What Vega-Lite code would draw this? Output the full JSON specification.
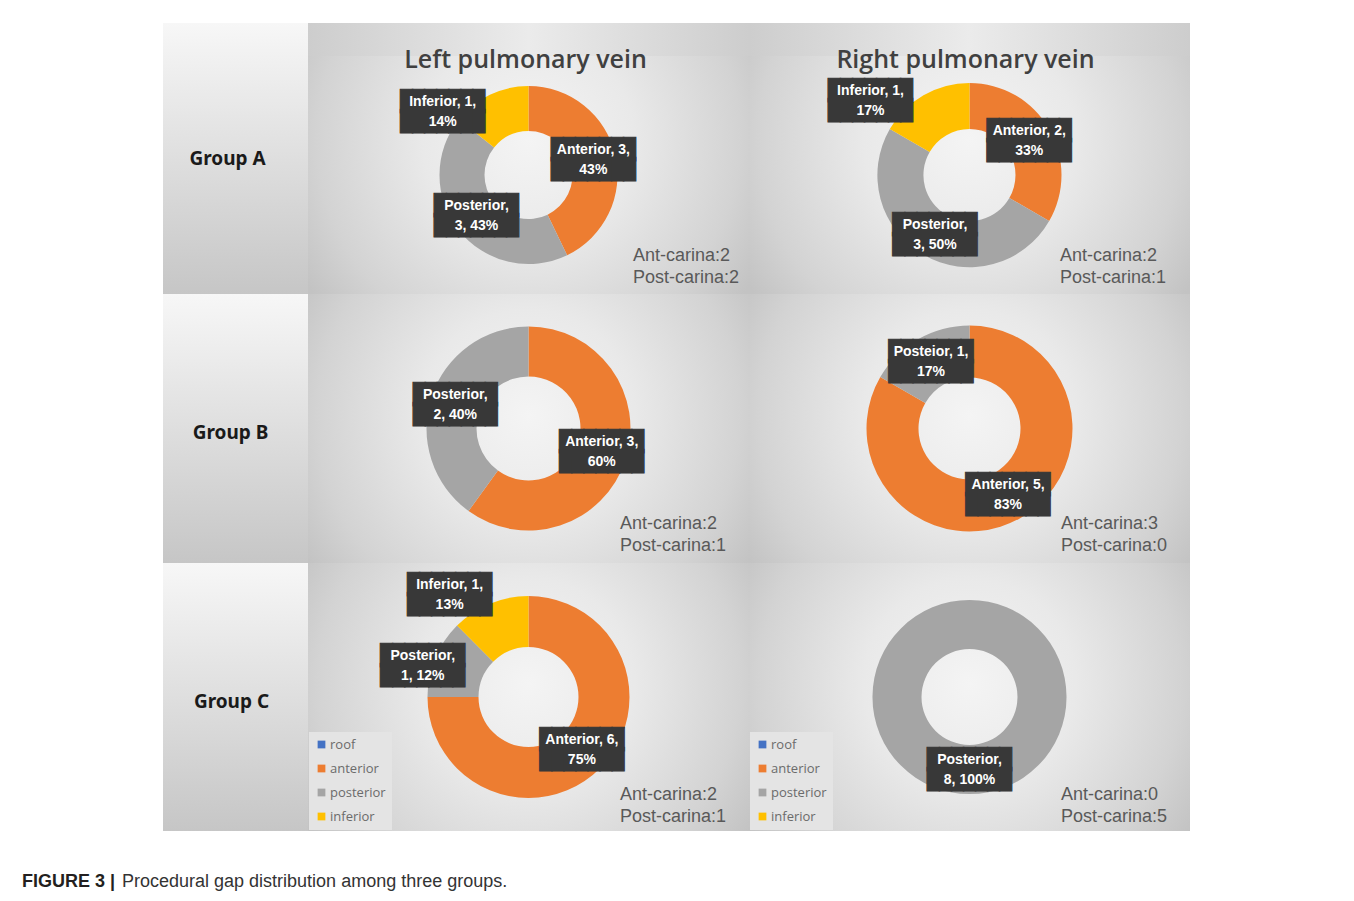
{
"$schema":"https://vega.github.io/schema/vega-lite/v6.json",
"padding":{"left":22,"top":23,"right":10,"bottom":5},
"background":"white",
"config":{"view":{"stroke":null},"concat":{"spacing":0}},
"datasets":{
"slices":[
{"group":"A","vein":"Left","region":"anterior","ord":1,"count":3,"label":["Anterior, 3,","43%"]},
{"group":"A","vein":"Left","region":"posterior","ord":2,"count":3,"label":["Posterior,","3, 43%"]},
{"group":"A","vein":"Left","region":"inferior","ord":3,"count":1,"label":["Inferior, 1,","14%"]},
{"group":"A","vein":"Right","region":"anterior","ord":1,"count":2,"label":["Anterior, 2,","33%"]},
{"group":"A","vein":"Right","region":"posterior","ord":2,"count":3,"label":["Posterior,","3, 50%"]},
{"group":"A","vein":"Right","region":"inferior","ord":3,"count":1,"label":["Inferior, 1,","17%"]},
{"group":"B","vein":"Left","region":"anterior","ord":1,"count":3,"label":["Anterior, 3,","60%"]},
{"group":"B","vein":"Left","region":"posterior","ord":2,"count":2,"label":["Posterior,","2, 40%"]},
{"group":"B","vein":"Right","region":"anterior","ord":1,"count":5,"label":["Anterior, 5,","83%"]},
{"group":"B","vein":"Right","region":"posterior","ord":2,"count":1,"label":["Posteior, 1,","17%"]},
{"group":"C","vein":"Left","region":"anterior","ord":1,"count":6,"label":["Anterior, 6,","75%"]},
{"group":"C","vein":"Left","region":"posterior","ord":2,"count":1,"label":["Posterior,","1, 12%"]},
{"group":"C","vein":"Left","region":"inferior","ord":3,"count":1,"label":["Inferior, 1,","13%"]},
{"group":"C","vein":"Right","region":"posterior","ord":2,"count":8,"label":["Posterior,","8, 100%"]}
],
"panels":[
{"group":"A","vein":"Left","title":"Left pulmonary vein","notes":["Ant-carina:2","Post-carina:2"]},
{"group":"A","vein":"Right","title":"Right pulmonary vein","notes":["Ant-carina:2","Post-carina:1"]},
{"group":"B","vein":"Left","title":"","notes":["Ant-carina:2","Post-carina:1"]},
{"group":"B","vein":"Right","title":"","notes":["Ant-carina:3","Post-carina:0"]},
{"group":"C","vein":"Left","title":"","notes":["Ant-carina:2","Post-carina:1"]},
{"group":"C","vein":"Right","title":"","notes":["Ant-carina:0","Post-carina:5"]}
],
"groups":[{"group":"A","name":"Group A"},{"group":"B","name":"Group B"},{"group":"C","name":"Group C"}]
},
"spacing":41,"bounds":"full",
"resolve":{"scale":{"theta":"independent","color":"independent"},"legend":{"color":"independent"}},
"vconcat":[
{"spacing":0,"bounds":"full",
"resolve":{"scale":{"theta":"independent","color":"independent"},"legend":{"color":"independent"}},
"vconcat":[
{"spacing":0,"bounds":"full",
"resolve":{"scale":{"theta":"independent","color":"independent"},"legend":{"color":"independent"}},
"hconcat":[
{"width":141,"height":271,"view":{"fill":"white"},"data":{"values":[]},"mark":"point","encoding":{}},
{"width":145,"height":271,"view":{"fill":{"gradient":"linear","x1":0,"y1":0,"x2":0,"y2":1,"stops":[{"offset":0,"color":"#f7f7f7"},{"offset":1,"color":"#c6c6c6"}]}},
"data":{"name":"groups"},"transform":[{"filter":"datum.group=='A'"}],
"mark":{"type":"text","font":"Noto Sans","fontWeight":"bold","fontSize":19,"color":"#1a1a1a","dx":-8,"dy":0},
"encoding":{"text":{"field":"name"}}},
{"spacing":0,"bounds":"flush",
"resolve":{"scale":{"theta":"independent","color":"independent"},"legend":{"color":"independent"}},
"vconcat":[
{"width":441,"height":33,"view":{"fill":{"gradient":"linear","x1":0,"y1":0,"x2":1,"y2":0,"stops":[{"offset":0,"color":"#cdcdcd"},{"offset":0.5,"color":"#ebebeb"},{"offset":1,"color":"#cdcdcd"}]}},
"data":{"values":[]},"mark":"point","encoding":{}},
{"width":441,"height":238,
"view":{"fill":{"gradient":"radial","x1":0.5,"y1":0.42,"r1":0,"x2":0.5,"y2":0.42,"r2":0.6,"stops":[{"offset":0,"color":"#f4f4f4"},{"offset":0.4,"color":"#e9e9e9"},{"offset":0.8,"color":"#d3d3d3"},{"offset":1,"color":"#c3c3c3"}]}},
"data":{"name":"slices"},
"transform":[{"filter":"datum.group=='A' && datum.vein=='Left'"}],
"layer":[
{"mark":{"type":"arc","innerRadius":44,"outerRadius":89},
"encoding":{"theta":{"field":"count","type":"quantitative","stack":true},"order":{"field":"ord","type":"quantitative"},
"color":{"field":"region","type":"nominal","scale":{"domain":["roof","anterior","posterior","inferior"],"range":["#4472C4","#ED7D31","#A5A5A5","#FFC000"]},"legend":null}}},
{"mark":{"type":"text","radius":66.5,"dy":-10,"font":"DejaVu Sans Mono","fontSize":20,"lineHeight":20,"color":"#383838","stroke":"#383838","strokeWidth":1.2,"align":"center","baseline":"middle"},
"encoding":{"theta":{"field":"count","type":"quantitative","stack":true},"order":{"field":"ord","type":"quantitative"},"text":{"value":["███████","███████"]},
"opacity":{"condition":{"test":"datum.region=='inferior'","value":0},"value":1}}},
{"mark":{"type":"text","radius":66.5,"dy":-10,"font":"Liberation Sans","fontWeight":"bold","fontSize":14,"lineHeight":20,"color":"#ffffff","align":"center","baseline":"middle"},
"encoding":{"theta":{"field":"count","type":"quantitative","stack":true},"order":{"field":"ord","type":"quantitative"},"text":{"field":"label"},
"opacity":{"condition":{"test":"datum.region=='inferior'","value":0},"value":1}}},
{"mark":{"type":"text","radius":66.5,"dx":-57,"dy":-13,"font":"DejaVu Sans Mono","fontSize":20,"lineHeight":20,"color":"#383838","stroke":"#383838","strokeWidth":1.2,"align":"center","baseline":"middle"},
"encoding":{"theta":{"field":"count","type":"quantitative","stack":true},"order":{"field":"ord","type":"quantitative"},"text":{"value":["███████","███████"]},
"opacity":{"condition":{"test":"datum.region=='inferior'","value":1},"value":0}}},
{"mark":{"type":"text","radius":66.5,"dx":-57,"dy":-13,"font":"Liberation Sans","fontWeight":"bold","fontSize":14,"lineHeight":20,"color":"#ffffff","align":"center","baseline":"middle"},
"encoding":{"theta":{"field":"count","type":"quantitative","stack":true},"order":{"field":"ord","type":"quantitative"},"text":{"field":"label"},
"opacity":{"condition":{"test":"datum.region=='inferior'","value":1},"value":0}}},
{"data":{"name":"panels"},"transform":[{"filter":"datum.group=='A' && datum.vein=='Left'"}],
"mark":{"type":"text","font":"Open Sans","fontWeight":600,"fontSize":25,"color":"#404040","align":"center","baseline":"middle","dx":-3,"dy":-115},
"encoding":{"text":{"field":"title"}}},
{"data":{"name":"panels"},"transform":[{"filter":"datum.group=='A' && datum.vein=='Left'"}],
"mark":{"type":"text","font":"Liberation Sans","fontSize":18,"lineHeight":22,"color":"#595959","align":"left","baseline":"middle","dx":104.5,"dy":81},
"encoding":{"text":{"field":"notes"}}}
]}
]},
{"spacing":0,"bounds":"flush",
"resolve":{"scale":{"theta":"independent","color":"independent"},"legend":{"color":"independent"}},
"vconcat":[
{"width":441,"height":33,"view":{"fill":{"gradient":"linear","x1":0,"y1":0,"x2":1,"y2":0,"stops":[{"offset":0,"color":"#cdcdcd"},{"offset":0.5,"color":"#ebebeb"},{"offset":1,"color":"#cdcdcd"}]}},
"data":{"values":[]},"mark":"point","encoding":{}},
{"width":441,"height":238,
"view":{"fill":{"gradient":"radial","x1":0.5,"y1":0.42,"r1":0,"x2":0.5,"y2":0.42,"r2":0.6,"stops":[{"offset":0,"color":"#f4f4f4"},{"offset":0.4,"color":"#e9e9e9"},{"offset":0.8,"color":"#d3d3d3"},{"offset":1,"color":"#c3c3c3"}]}},
"data":{"name":"slices"},
"transform":[{"filter":"datum.group=='A' && datum.vein=='Right'"}],
"layer":[
{"mark":{"type":"arc","innerRadius":46,"outerRadius":92},
"encoding":{"theta":{"field":"count","type":"quantitative","stack":true},"order":{"field":"ord","type":"quantitative"},
"color":{"field":"region","type":"nominal","scale":{"domain":["roof","anterior","posterior","inferior"],"range":["#4472C4","#ED7D31","#A5A5A5","#FFC000"]},"legend":null}}},
{"mark":{"type":"text","radius":69,"dy":-10,"font":"DejaVu Sans Mono","fontSize":20,"lineHeight":20,"color":"#383838","stroke":"#383838","strokeWidth":1.2,"align":"center","baseline":"middle"},
"encoding":{"theta":{"field":"count","type":"quantitative","stack":true},"order":{"field":"ord","type":"quantitative"},"text":{"value":["███████","███████"]},
"opacity":{"condition":{"test":"datum.region=='inferior'","value":0},"value":1}}},
{"mark":{"type":"text","radius":69,"dy":-10,"font":"Liberation Sans","fontWeight":"bold","fontSize":14,"lineHeight":20,"color":"#ffffff","align":"center","baseline":"middle"},
"encoding":{"theta":{"field":"count","type":"quantitative","stack":true},"order":{"field":"ord","type":"quantitative"},"text":{"field":"label"},
"opacity":{"condition":{"test":"datum.region=='inferior'","value":0},"value":1}}},
{"mark":{"type":"text","radius":69,"dx":-64.5,"dy":-24,"font":"DejaVu Sans Mono","fontSize":20,"lineHeight":20,"color":"#383838","stroke":"#383838","strokeWidth":1.2,"align":"center","baseline":"middle"},
"encoding":{"theta":{"field":"count","type":"quantitative","stack":true},"order":{"field":"ord","type":"quantitative"},"text":{"value":["███████","███████"]},
"opacity":{"condition":{"test":"datum.region=='inferior'","value":1},"value":0}}},
{"mark":{"type":"text","radius":69,"dx":-64.5,"dy":-24,"font":"Liberation Sans","fontWeight":"bold","fontSize":14,"lineHeight":20,"color":"#ffffff","align":"center","baseline":"middle"},
"encoding":{"theta":{"field":"count","type":"quantitative","stack":true},"order":{"field":"ord","type":"quantitative"},"text":{"field":"label"},
"opacity":{"condition":{"test":"datum.region=='inferior'","value":1},"value":0}}},
{"data":{"name":"panels"},"transform":[{"filter":"datum.group=='A' && datum.vein=='Right'"}],
"mark":{"type":"text","font":"Open Sans","fontWeight":600,"fontSize":25,"color":"#404040","align":"center","baseline":"middle","dx":-4,"dy":-115},
"encoding":{"text":{"field":"title"}}},
{"data":{"name":"panels"},"transform":[{"filter":"datum.group=='A' && datum.vein=='Right'"}],
"mark":{"type":"text","font":"Liberation Sans","fontSize":18,"lineHeight":22,"color":"#595959","align":"left","baseline":"middle","dx":90.5,"dy":81},
"encoding":{"text":{"field":"notes"}}}
]}
]}
]},
{"spacing":0,"bounds":"full",
"resolve":{"scale":{"theta":"independent","color":"independent"},"legend":{"color":"independent"}},
"hconcat":[
{"width":141,"height":269,"view":{"fill":"white"},"data":{"values":[]},"mark":"point","encoding":{}},
{"width":145,"height":269,"view":{"fill":{"gradient":"linear","x1":0,"y1":0,"x2":0,"y2":1,"stops":[{"offset":0,"color":"#f7f7f7"},{"offset":1,"color":"#c6c6c6"}]}},
"data":{"name":"groups"},"transform":[{"filter":"datum.group=='B'"}],
"mark":{"type":"text","font":"Noto Sans","fontWeight":"bold","fontSize":19,"color":"#1a1a1a","dx":-5,"dy":4},
"encoding":{"text":{"field":"name"}}},
{"width":441,"height":269,
"view":{"fill":{"gradient":"radial","x1":0.5,"y1":0.47,"r1":0,"x2":0.5,"y2":0.47,"r2":0.6,"stops":[{"offset":0,"color":"#f4f4f4"},{"offset":0.4,"color":"#e9e9e9"},{"offset":0.8,"color":"#d3d3d3"},{"offset":1,"color":"#c3c3c3"}]}},
"data":{"name":"slices"},
"transform":[{"filter":"datum.group=='B' && datum.vein=='Left'"}],
"layer":[
{"mark":{"type":"arc","innerRadius":52,"outerRadius":102},
"encoding":{"theta":{"field":"count","type":"quantitative","stack":true},"order":{"field":"ord","type":"quantitative"},
"color":{"field":"region","type":"nominal","scale":{"domain":["roof","anterior","posterior","inferior"],"range":["#4472C4","#ED7D31","#A5A5A5","#FFC000"]},"legend":null}}},
{"mark":{"type":"text","radius":77,"dy":-10,"font":"DejaVu Sans Mono","fontSize":20,"lineHeight":20,"color":"#383838","stroke":"#383838","strokeWidth":1.2,"align":"center","baseline":"middle"},
"encoding":{"theta":{"field":"count","type":"quantitative","stack":true},"order":{"field":"ord","type":"quantitative"},"text":{"value":["███████","███████"]}}},
{"mark":{"type":"text","radius":77,"dy":-10,"font":"Liberation Sans","fontWeight":"bold","fontSize":14,"lineHeight":20,"color":"#ffffff","align":"center","baseline":"middle"},
"encoding":{"theta":{"field":"count","type":"quantitative","stack":true},"order":{"field":"ord","type":"quantitative"},"text":{"field":"label"}}},
{"data":{"name":"panels"},"transform":[{"filter":"datum.group=='B' && datum.vein=='Left'"}],
"mark":{"type":"text","font":"Liberation Sans","fontSize":18,"lineHeight":22,"color":"#595959","align":"left","baseline":"middle","dx":91.5,"dy":95.5},
"encoding":{"text":{"field":"notes"}}}
]},
{"width":441,"height":269,
"view":{"fill":{"gradient":"radial","x1":0.5,"y1":0.47,"r1":0,"x2":0.5,"y2":0.47,"r2":0.6,"stops":[{"offset":0,"color":"#f4f4f4"},{"offset":0.4,"color":"#e9e9e9"},{"offset":0.8,"color":"#d3d3d3"},{"offset":1,"color":"#c3c3c3"}]}},
"data":{"name":"slices"},
"transform":[{"filter":"datum.group=='B' && datum.vein=='Right'"}],
"layer":[
{"mark":{"type":"arc","innerRadius":51,"outerRadius":103},
"encoding":{"theta":{"field":"count","type":"quantitative","stack":true},"order":{"field":"ord","type":"quantitative"},
"color":{"field":"region","type":"nominal","scale":{"domain":["roof","anterior","posterior","inferior"],"range":["#4472C4","#ED7D31","#A5A5A5","#FFC000"]},"legend":null}}},
{"mark":{"type":"text","radius":77,"dy":-10,"font":"DejaVu Sans Mono","fontSize":20,"lineHeight":20,"color":"#383838","stroke":"#383838","strokeWidth":1.2,"align":"center","baseline":"middle"},
"encoding":{"theta":{"field":"count","type":"quantitative","stack":true},"order":{"field":"ord","type":"quantitative"},"text":{"value":["███████","███████"]}}},
{"mark":{"type":"text","radius":77,"dy":-10,"font":"Liberation Sans","fontWeight":"bold","fontSize":14,"lineHeight":20,"color":"#ffffff","align":"center","baseline":"middle"},
"encoding":{"theta":{"field":"count","type":"quantitative","stack":true},"order":{"field":"ord","type":"quantitative"},"text":{"field":"label"}}},
{"data":{"name":"panels"},"transform":[{"filter":"datum.group=='B' && datum.vein=='Right'"}],
"mark":{"type":"text","font":"Liberation Sans","fontSize":18,"lineHeight":22,"color":"#595959","align":"left","baseline":"middle","dx":91.5,"dy":95.5},
"encoding":{"text":{"field":"notes"}}}
]}
]},
{"spacing":0,"bounds":"full",
"resolve":{"scale":{"theta":"independent","color":"independent"},"legend":{"color":"independent"}},
"hconcat":[
{"width":141,"height":268,"view":{"fill":"white"},"data":{"values":[]},"mark":"point","encoding":{}},
{"width":145,"height":268,"view":{"fill":{"gradient":"linear","x1":0,"y1":0,"x2":0,"y2":1,"stops":[{"offset":0,"color":"#f7f7f7"},{"offset":1,"color":"#c6c6c6"}]}},
"data":{"name":"groups"},"transform":[{"filter":"datum.group=='C'"}],
"mark":{"type":"text","font":"Noto Sans","fontWeight":"bold","fontSize":19,"color":"#1a1a1a","dx":-4,"dy":5},
"encoding":{"text":{"field":"name"}}},
{"width":441,"height":268,
"view":{"fill":{"gradient":"radial","x1":0.5,"y1":0.47,"r1":0,"x2":0.5,"y2":0.47,"r2":0.6,"stops":[{"offset":0,"color":"#f4f4f4"},{"offset":0.4,"color":"#e9e9e9"},{"offset":0.8,"color":"#d3d3d3"},{"offset":1,"color":"#c3c3c3"}]}},
"data":{"name":"slices"},
"transform":[{"filter":"datum.group=='C' && datum.vein=='Left'"}],
"layer":[
{"mark":{"type":"arc","innerRadius":50,"outerRadius":101},
"encoding":{"theta":{"field":"count","type":"quantitative","stack":true},"order":{"field":"ord","type":"quantitative"},
"color":{"field":"region","type":"nominal","scale":{"domain":["roof","anterior","posterior","inferior"],"range":["#4472C4","#ED7D31","#A5A5A5","#FFC000"]},
"legend":{"orient":"bottom-left","offset":1,"title":null,"padding":6,"rowPadding":10,"fillColor":"#e4e4e4","symbolType":"square","symbolSize":60,"symbolStrokeWidth":0,"labelFont":"Open Sans","labelFontSize":13,"labelColor":"#6b6b6b","labelOffset":2}}}},
{"mark":{"type":"text","radius":75.5,"dy":-10,"font":"DejaVu Sans Mono","fontSize":20,"lineHeight":20,"color":"#383838","stroke":"#383838","strokeWidth":1.2,"align":"center","baseline":"middle"},
"encoding":{"theta":{"field":"count","type":"quantitative","stack":true},"order":{"field":"ord","type":"quantitative"},"text":{"value":["███████","███████"]},
"opacity":{"condition":{"test":"datum.region=='inferior' || datum.region=='posterior'","value":0},"value":1}}},
{"mark":{"type":"text","radius":75.5,"dy":-10,"font":"Liberation Sans","fontWeight":"bold","fontSize":14,"lineHeight":20,"color":"#ffffff","align":"center","baseline":"middle"},
"encoding":{"theta":{"field":"count","type":"quantitative","stack":true},"order":{"field":"ord","type":"quantitative"},"text":{"field":"label"},
"opacity":{"condition":{"test":"datum.region=='inferior' || datum.region=='posterior'","value":0},"value":1}}},
{"mark":{"type":"text","radius":75.5,"dx":-36,"dy":-12,"font":"DejaVu Sans Mono","fontSize":20,"lineHeight":20,"color":"#383838","stroke":"#383838","strokeWidth":1.2,"align":"center","baseline":"middle"},
"encoding":{"theta":{"field":"count","type":"quantitative","stack":true},"order":{"field":"ord","type":"quantitative"},"text":{"value":["███████","███████"]},
"opacity":{"condition":{"test":"datum.region=='posterior'","value":1},"value":0}}},
{"mark":{"type":"text","radius":75.5,"dx":-36,"dy":-12,"font":"Liberation Sans","fontWeight":"bold","fontSize":14,"lineHeight":20,"color":"#ffffff","align":"center","baseline":"middle"},
"encoding":{"theta":{"field":"count","type":"quantitative","stack":true},"order":{"field":"ord","type":"quantitative"},"text":{"field":"label"},
"opacity":{"condition":{"test":"datum.region=='posterior'","value":1},"value":0}}},
{"mark":{"type":"text","radius":75.5,"dx":-50,"dy":-42,"font":"DejaVu Sans Mono","fontSize":20,"lineHeight":20,"color":"#383838","stroke":"#383838","strokeWidth":1.2,"align":"center","baseline":"middle"},
"encoding":{"theta":{"field":"count","type":"quantitative","stack":true},"order":{"field":"ord","type":"quantitative"},"text":{"value":["███████","███████"]},
"opacity":{"condition":{"test":"datum.region=='inferior'","value":1},"value":0}}},
{"mark":{"type":"text","radius":75.5,"dx":-50,"dy":-42,"font":"Liberation Sans","fontWeight":"bold","fontSize":14,"lineHeight":20,"color":"#ffffff","align":"center","baseline":"middle"},
"encoding":{"theta":{"field":"count","type":"quantitative","stack":true},"order":{"field":"ord","type":"quantitative"},"text":{"field":"label"},
"opacity":{"condition":{"test":"datum.region=='inferior'","value":1},"value":0}}},
{"data":{"name":"panels"},"transform":[{"filter":"datum.group=='C' && datum.vein=='Left'"}],
"mark":{"type":"text","font":"Liberation Sans","fontSize":18,"lineHeight":22,"color":"#595959","align":"left","baseline":"middle","dx":91.5,"dy":97.5},
"encoding":{"text":{"field":"notes"}}}
]},
{"width":441,"height":268,
"view":{"fill":{"gradient":"radial","x1":0.5,"y1":0.47,"r1":0,"x2":0.5,"y2":0.47,"r2":0.6,"stops":[{"offset":0,"color":"#f4f4f4"},{"offset":0.4,"color":"#e9e9e9"},{"offset":0.8,"color":"#d3d3d3"},{"offset":1,"color":"#c3c3c3"}]}},
"data":{"name":"slices"},
"transform":[{"filter":"datum.group=='C' && datum.vein=='Right'"}],
"layer":[
{"mark":{"type":"arc","innerRadius":48,"outerRadius":97},
"encoding":{"theta":{"field":"count","type":"quantitative","stack":true},"order":{"field":"ord","type":"quantitative"},
"color":{"field":"region","type":"nominal","scale":{"domain":["roof","anterior","posterior","inferior"],"range":["#4472C4","#ED7D31","#A5A5A5","#FFC000"]},
"legend":{"orient":"bottom-left","offset":1,"title":null,"padding":6,"rowPadding":10,"fillColor":"#e4e4e4","symbolType":"square","symbolSize":60,"symbolStrokeWidth":0,"labelFont":"Open Sans","labelFontSize":13,"labelColor":"#6b6b6b","labelOffset":2}}}},
{"mark":{"type":"text","radius":72.5,"dy":-10,"font":"DejaVu Sans Mono","fontSize":20,"lineHeight":20,"color":"#383838","stroke":"#383838","strokeWidth":1.2,"align":"center","baseline":"middle"},
"encoding":{"theta":{"field":"count","type":"quantitative","stack":true},"order":{"field":"ord","type":"quantitative"},"text":{"value":["███████","███████"]}}},
{"mark":{"type":"text","radius":72.5,"dy":-10,"font":"Liberation Sans","fontWeight":"bold","fontSize":14,"lineHeight":20,"color":"#ffffff","align":"center","baseline":"middle"},
"encoding":{"theta":{"field":"count","type":"quantitative","stack":true},"order":{"field":"ord","type":"quantitative"},"text":{"field":"label"}}},
{"data":{"name":"panels"},"transform":[{"filter":"datum.group=='C' && datum.vein=='Right'"}],
"mark":{"type":"text","font":"Liberation Sans","fontSize":18,"lineHeight":22,"color":"#595959","align":"left","baseline":"middle","dx":91.5,"dy":97.5},
"encoding":{"text":{"field":"notes"}}}
]}
]}
]},
{"spacing":0,"bounds":"full",
"hconcat":[
{"width":100,"height":1,"view":{"fill":"white"},"data":{"values":[]},"mark":"point","encoding":{},
"title":{"text":"FIGURE 3 |","orient":"bottom","anchor":"start","offset":0,"baseline":"top","font":"Liberation Sans","fontSize":18,"fontWeight":"bold","color":"#231f20"}},
{"width":400,"height":1,"view":{"fill":"white"},"data":{"values":[]},"mark":"point","encoding":{},
"title":{"text":"Procedural gap distribution among three groups.","orient":"bottom","anchor":"start","offset":0,"baseline":"top","font":"Liberation Sans","fontSize":18,"fontWeight":"normal","color":"#333333"}}
]}
]
}
